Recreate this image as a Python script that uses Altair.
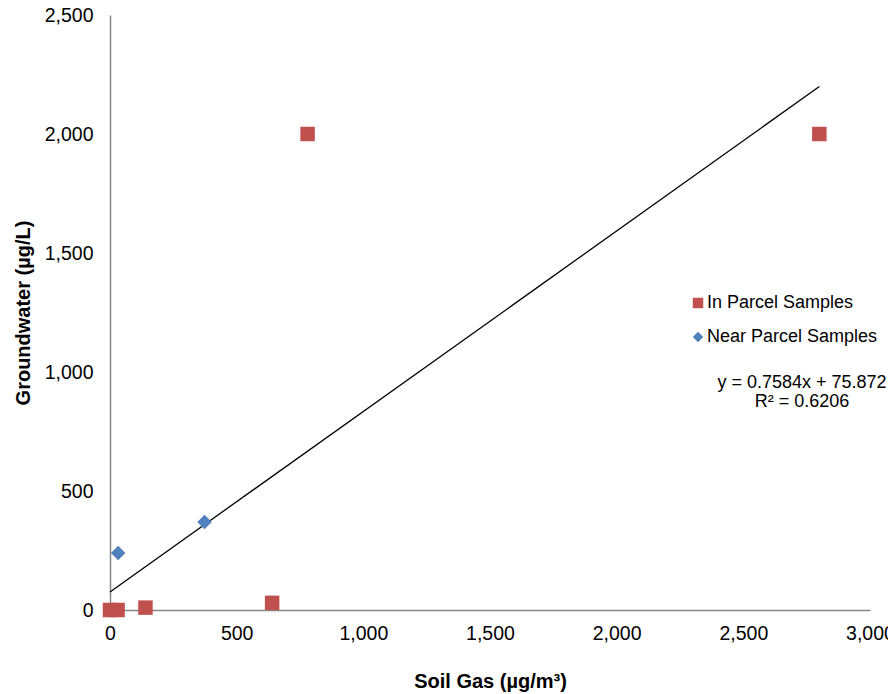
import altair as alt
import pandas as pd

# Data
in_x = [0, 30, 140, 640, 780, 2800]
in_y = [0, 0, 10, 30, 2000, 2000]
near_x = [32, 373]
near_y = [240, 370]
series_names = ["In Parcel Samples", "Near Parcel Samples"]
slope = 0.7584
intercept = 75.872
r2 = 0.6206
x_ticks = [0, 500, 1000, 1500, 2000, 2500, 3000]
y_ticks = [0, 500, 1000, 1500, 2000, 2500]

pts = pd.DataFrame(
    {
        "x": in_x + near_x,
        "y": in_y + near_y,
        "series": [series_names[0]] * len(in_x) + [series_names[1]] * len(near_x),
    }
)
all_x = in_x + near_x
trend = pd.DataFrame({"x": [min(all_x), max(all_x)]})
trend["y"] = slope * trend["x"] + intercept

FONT = "Liberation Sans"

xscale = alt.Scale(domain=[0, 3000], nice=False)
yscale = alt.Scale(domain=[0, 2500], nice=False)

xaxis = alt.Axis(
    values=x_ticks, format=",d", title="Soil Gas (µg/m³)", grid=False, ticks=False,
    labelFlush=False, labelPadding=14, titlePadding=29,
    domainColor="#868686", domainWidth=1.5,
)
yaxis = alt.Axis(
    values=y_ticks, format=",d", title="Groundwater (µg/L)", grid=False, ticks=False,
    labelFlush=False, labelPadding=17, titlePadding=11,
    domainColor="#868686", domainWidth=1.5,
)

line = alt.Chart(trend).mark_line(color="black", strokeWidth=1.3).encode(
    x=alt.X("x:Q", scale=xscale, axis=xaxis),
    y=alt.Y("y:Q", scale=yscale, axis=yaxis),
)

points = alt.Chart(pts).mark_point(filled=True, opacity=1, size=210).encode(
    x=alt.X("x:Q", scale=xscale),
    y=alt.Y("y:Q", scale=yscale),
    color=alt.Color(
        "series:N",
        scale=alt.Scale(domain=series_names, range=["#C0504D", "#4F81BD"]),
        legend=alt.Legend(
            title=None, orient="none", legendX=579, legendY=279,
            labelFontSize=18, labelFont=FONT, labelColor="#000000", labelLimit=400,
            rowPadding=16, symbolSize=110, labelOffset=0, padding=0,
        ),
    ),
    shape=alt.Shape(
        "series:N",
        scale=alt.Scale(domain=series_names, range=["square", "diamond"]),
        legend=None,
    ),
)

eq = alt.Chart(pd.DataFrame({"t": [f"y = {slope}x + {intercept}"]})).mark_text(
    font=FONT, fontSize=18, align="center", baseline="middle", color="black"
).encode(text="t:N", x=alt.value(692), y=alt.value(368))
r2t = alt.Chart(pd.DataFrame({"t": [f"R² = {r2}"]})).mark_text(
    font=FONT, fontSize=18, align="center", baseline="middle", color="black"
).encode(text="t:N", x=alt.value(692), y=alt.value(387))

chart = (
    alt.layer(line, points, eq, r2t)
    .properties(
        width=760, height=595,
        autosize=alt.AutoSizeParams(type="none"),
        padding={"left": 102, "top": 7, "right": 18, "bottom": 84},
        background="white",
    )
    .configure_view(stroke=None)
    .configure_axis(
        labelFont=FONT, labelFontSize=19.5, labelColor="#000000",
        titleFont=FONT, titleFontSize=20, titleFontWeight="bold", titleColor="#000000",
    )
)

chart.save("out.html", embed_options={"renderer": "svg", "actions": False})
